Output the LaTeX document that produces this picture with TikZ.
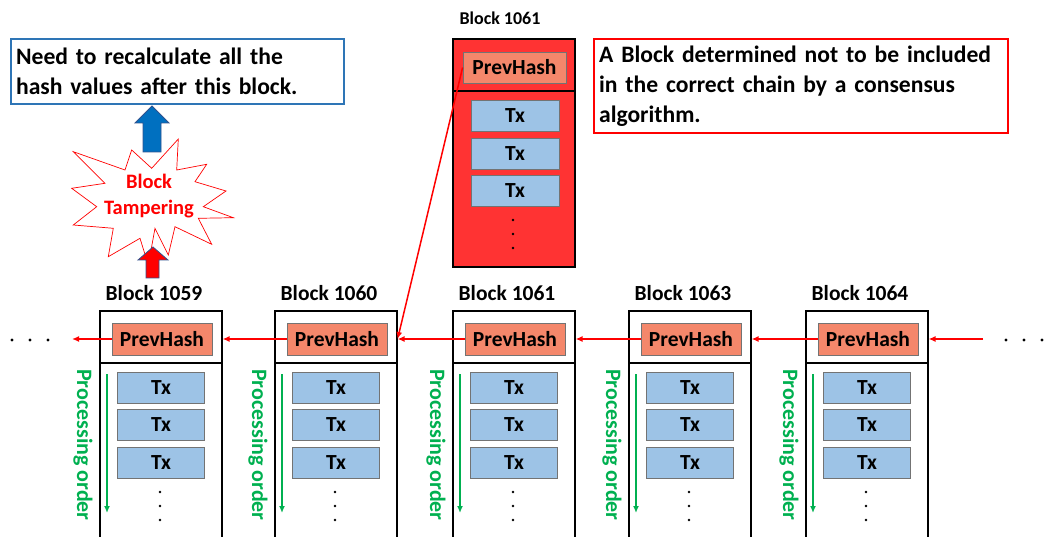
\documentclass[tikz,border=0pt]{standalone}
\usepackage{fontspec}
\setmainfont{Carlito}
\usetikzlibrary{arrows.meta}
\definecolor{hashfill}{HTML}{F4876B}
\definecolor{txfill}{HTML}{9DC3E6}
\definecolor{procgreen}{HTML}{00B050}
\definecolor{badred}{HTML}{FF3333}
\definecolor{noteblue}{HTML}{2E75B6}
\definecolor{arrowblue}{HTML}{0070C0}
\definecolor{edgeblue}{HTML}{2F528F}
\definecolor{linkred}{HTML}{FF0000}

\begin{document}
\begin{tikzpicture}[x=1pt,y=-1pt,
  blockbox/.style={draw=black, line width=1.6pt, minimum width=122pt, inner sep=0pt},
  divider/.style={draw=black, line width=2pt},
  hashbox/.style={draw=black!55, line width=0.8pt, fill=hashfill, minimum width=100pt,
    minimum height=32pt, inner sep=0pt, font=\fontsize{21.5}{24}\selectfont\bfseries},
  txbox/.style={draw=black!55, line width=0.8pt, fill=txfill, minimum width=87pt,
    minimum height=31pt, inner sep=0pt, font=\fontsize{21.5}{24}\selectfont\bfseries},
  blocklabel/.style={font=\fontsize{21.5}{24}\selectfont\bfseries, inner sep=0pt},
  proclabel/.style={font=\fontsize{22}{24}\selectfont\bfseries, text=procgreen, inner sep=0pt},
  procarrow/.style={draw=procgreen, line width=1.4pt, -{Latex[length=7pt,width=6pt]}},
  chainarrow/.style={draw=linkred, line width=1.5pt, -{Latex[length=7pt,width=6pt]}},
  note/.style={line width=2.2pt, inner xsep=5pt, inner ysep=0pt, align=left,
    font=\fontsize{23.6}{30}\selectfont\bfseries},
  burst/.style={draw=linkred, line width=0.7pt, fill=white},
  blockarrow/.style={draw=edgeblue, line width=0.8pt}
]
\useasboundingbox (0,0) rectangle (1047,537);
\clip (0,0) rectangle (1047,537);

% chain of accepted blocks
\foreach \n/\lx in {1059/99, 1060/274, 1061/452, 1063/628, 1064/805} {
  \pgfmathsetmacro\cx{\lx+61}
  \node[blockbox, anchor=north west, minimum height=260pt] (b\n) at (\lx,310) {};
  \node[blocklabel] (lab\n) at (\cx-6,293) {Block \n};
  \draw[divider] (\lx,363) -- (\lx+122,363);
  \node[hashbox] (h\n) at (\cx+2,339) {PrevHash};
  \node[txbox] (tx\n a) at (\cx+1,387.5) {Tx};
  \node[txbox] (tx\n b) at (\cx+1,425) {Tx};
  \node[txbox] (tx\n c) at (\cx+1,462.5) {Tx};
  \fill (\cx,492) circle (1.4) (\cx,506) circle (1.4) (\cx,520) circle (1.4);
  \draw[procarrow] (\lx+8,374) -- (\lx+8,513);
  \node[proclabel, rotate=-90] (p\n) at (\lx-16,445) {Processing order};
}

% orphaned block
\node[blockbox, fill=badred, anchor=north west, minimum height=228pt] (t61) at (452,38) {};
\node[blocklabel, font=\fontsize{18}{20}\selectfont\bfseries] (labt61) at (500,18) {Block 1061};
\draw[divider] (452,91) -- (575,91);
\node[hashbox, minimum width=103pt, minimum height=31pt] (ht61) at (514.5,67.5) {PrevHash};
\node[txbox, minimum width=88pt] (txt61a) at (515,116) {Tx};
\node[txbox, minimum width=88pt] (txt61b) at (515,153.5) {Tx};
\node[txbox, minimum width=88pt] (txt61c) at (515,191) {Tx};
\fill (513,220) circle (1.4) (513,234) circle (1.4) (513,248) circle (1.4);

% hash links
\coordinate (leftend) at (72,339);
\coordinate (rightstart) at (983,339);
\draw[chainarrow] (h1059.west) -- (leftend);
\draw[chainarrow] (h1060.west) -- (h1060 -| b1059.east);
\draw[chainarrow] (h1061.west) -- (h1061 -| b1060.east);
\draw[chainarrow] (h1063.west) -- (h1063 -| b1061.east);
\draw[chainarrow] (h1064.west) -- (h1064 -| b1063.east);
\draw[chainarrow] (rightstart) -- (h1064 -| b1064.east);
\draw[chainarrow] (ht61.west) -- (h1061 -| b1060.east);

% continuation dots
\fill (12,340) circle (1.6) (30,340) circle (1.6) (48,340) circle (1.6);
\fill (1006,340) circle (1.6) (1024,340) circle (1.6) (1042,340) circle (1.6);

% notes
\node[note, draw=noteblue, anchor=north west, minimum width=333pt, minimum height=65pt,
  text width=323pt] (recalc) at (10,38)
  {Need to recalculate all the\\hash values after this block.};
\node[note, draw=linkred, anchor=north west, minimum width=414pt, minimum height=94pt,
  text width=404pt] (orphan) at (593,38)
  {A Block determined not to be included\\in the correct chain by a consensus\\algorithm.};

% tampering burst
\draw[burst] (178.3,139) -- (176.7,170) -- (206.7,164.3) -- (195,181.7) -- (226,191)
  -- (203.3,206.7) -- (233.3,217.7) -- (198.3,218.3) -- (211.7,244.3) -- (175,226.7)
  -- (168.3,255) -- (155,228.3) -- (148.3,265) -- (140,238.3) -- (108.3,256.7)
  -- (113.3,228.3) -- (73.3,225) -- (96.7,206.7) -- (71.7,188.3) -- (105,183.3)
  -- (73.3,151.7) -- (125,170) -- (131.7,150) -- (151.7,168.3) -- cycle;
\node[align=center, inner sep=0pt, text=linkred,
  font=\fontsize{20.5}{26}\selectfont\bfseries] (tamper) at (149,196) {Block\\Tampering};

% block arrows
\draw[blockarrow, fill=arrowblue] (143,152) -- (143,123) -- (135,123) -- (152,106)
  -- (169,123) -- (161,123) -- (161,152) -- cycle;
\draw[blockarrow, fill=linkred] (146,278) -- (146,260) -- (138,260) -- (153,247)
  -- (168,260) -- (159,260) -- (159,278) -- cycle;
\end{tikzpicture}
\end{document}
